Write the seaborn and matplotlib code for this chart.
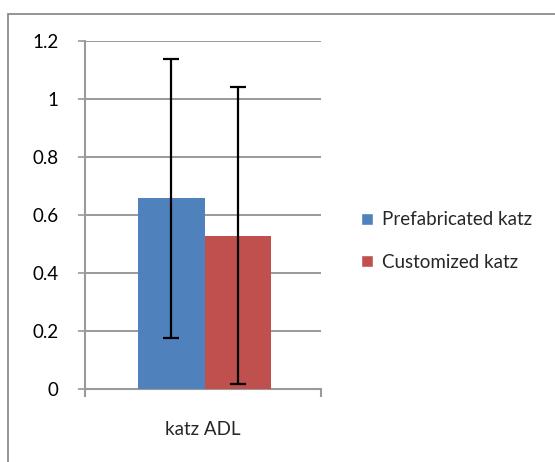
import matplotlib
matplotlib.use("Agg")
import matplotlib.pyplot as plt
import seaborn as sns
import pandas as pd
from matplotlib.patches import Rectangle

categories = ["katz ADL"]
series = ["Prefabricated katz", "Customized katz"]
values = [0.657, 0.529]
errors = [0.48, 0.512]
colors = ["#4F81BD", "#C0504D"]
yticks = [0, 0.2, 0.4, 0.6, 0.8, 1, 1.2]
ytick_labels = ["0", "0.2", "0.4", "0.6", "0.8", "1", "1.2"]

df = pd.DataFrame({"cat": categories * len(series), "series": series, "value": values})

sns.set_style("white")
plt.rcParams["font.family"] = ["Lato", "DejaVu Sans"]

FS = 13.5
W, H = 555, 462
fig = plt.figure(figsize=(W / 100, H / 100), dpi=100)
ax = fig.add_axes([85 / W, 1 - 389 / H, (321 - 85) / W, (389 - 41) / H])

sns.barplot(data=df, x="cat", y="value", hue="series", palette=colors,
            width=0.5636, errorbar=None, ax=ax, saturation=1, zorder=3)

patches = [p for p in ax.patches if p.get_height() > 0]
for p, v, e in zip(patches, values, errors):
    p.set_edgecolor("none")
    ax.errorbar(p.get_x() + p.get_width() / 2, v, yerr=e, fmt="none",
                ecolor="black", elinewidth=1.6, capsize=6, capthick=1.6, zorder=4)

ax.set_xlim(-0.507, 0.493)
ax.set_ylim(0, 1.2)
ax.set_yticks(yticks)
ax.set_yticklabels(ytick_labels, fontsize=FS)
ax.set_xticks([-0.507, 0.493])
ax.set_xticklabels(["", ""])
ax.text(-0.007, -0.14, categories[0], ha="center", va="center", fontsize=FS,
        transform=ax.transData)
ax.set_xlabel("")
ax.set_ylabel("")

for y in yticks[1:]:
    ax.axhline(y, color="#878787", lw=1.2, zorder=1)

for s in ["top", "right"]:
    ax.spines[s].set_visible(False)
for s in ["left", "bottom"]:
    ax.spines[s].set_color("#9a9a9a")
    ax.spines[s].set_linewidth(1.5)
    ax.spines[s].set_zorder(2)
ax.tick_params(axis="y", which="both", direction="out", length=5, width=1.2,
               color="#9a9a9a", left=True, pad=14, labelcolor="black")
ax.tick_params(axis="x", which="both", direction="out", length=6, width=1.5,
               color="#9a9a9a", bottom=True)

handles, labels = ax.get_legend_handles_labels()
leg = ax.legend(handles, labels, loc="center left", bbox_to_anchor=(344 / W, 1 - 241 / H),
                bbox_transform=fig.transFigure, frameon=False, fontsize=FS,
                handlelength=0.65, handleheight=0.65, handletextpad=0.45,
                labelspacing=1.35)

fig.add_artist(Rectangle((8 / W, -0.05), 1.2, 1 - 14 / H + 0.05, transform=fig.transFigure,
                         fill=False, edgecolor="#8c8c8c", lw=1.3))

fig.savefig("out.png", dpi=100)
